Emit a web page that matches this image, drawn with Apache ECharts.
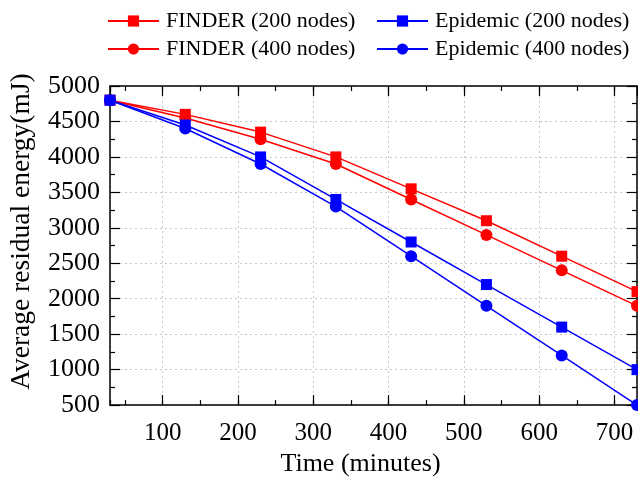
<!DOCTYPE html>
<html>
<head>
<meta charset="utf-8">
<script src="https://cdn.jsdelivr.net/npm/echarts@6/dist/echarts.min.js"></script>
<style>
html,body{margin:0;padding:0;background:#fff;}
#chart{width:638px;height:482px;}
</style>
</head>
<body>
<div id="chart"></div>
<script>
const timeValues = [30, 130, 230, 330, 430, 530, 630, 730];
const finder200 = [4800, 4600, 4350, 4000, 3550, 3100, 2600, 2100];
const finder400 = [4800, 4550, 4250, 3900, 3400, 2900, 2400, 1900];
const epidemic200 = [4800, 4450, 4000, 3400, 2800, 2200, 1600, 1000];
const epidemic400 = [4800, 4400, 3900, 3300, 2600, 1900, 1200, 500];
const seriesNames = ['FINDER (200 nodes)', 'FINDER (400 nodes)', 'Epidemic (200 nodes)', 'Epidemic (400 nodes)'];
const xTickLabels = [100, 200, 300, 400, 500, 600, 700];
const yTickLabels = [500, 1000, 1500, 2000, 2500, 3000, 3500, 4000, 4500, 5000];

const FONT = '"Liberation Serif", "Times New Roman", serif';
const pair = arr => timeValues.map((t, i) => [t, arr[i]]);

const chart = echarts.init(document.getElementById('chart'), null, {renderer: 'canvas'});

const xMin = timeValues[0], xMax = timeValues[timeValues.length - 1];
const yMin = yTickLabels[0], yMax = yTickLabels[yTickLabels.length - 1];

function xAxisCfg(pos, major, showLabel, extra) {
  return Object.assign({
    type: 'value', position: pos, min: xMin, max: xMax,
    splitNumber: major ? 7 : 14,
    axisLine: {show: major, lineStyle: {color: '#000', width: 1.5}},
    axisTick: {show: true, inside: true, length: major ? 10 : 5, lineStyle: {color: '#000', width: 1.2}},
    axisLabel: {show: showLabel, showMinLabel: false, showMaxLabel: false, margin: 16,
      color: '#000', fontFamily: FONT, fontSize: 25,
      formatter: v => (xTickLabels.indexOf(v) >= 0 ? String(v) : '')},
    splitLine: {show: false}
  }, extra || {});
}

const legendText = {fontFamily: FONT, fontSize: 22, color: '#000', lineHeight: 22, padding: [0, 0, 0, 2]};

const option = {
  animation: false,
  backgroundColor: '#fff',
  grid: {left: 108, right: 1, top: 86, bottom: 74, containLabel: false},
  legend: [
    {
      data: [seriesNames[0], seriesNames[1]],
      orient: 'vertical', left: 107, top: 10, padding: 0,
      itemWidth: 51, itemHeight: 14, itemGap: 6,
      textStyle: legendText
    },
    {
      data: [seriesNames[2], seriesNames[3]],
      orient: 'vertical', left: 376, top: 10, padding: 0,
      itemWidth: 51, itemHeight: 14, itemGap: 6,
      textStyle: legendText
    }
  ],
  xAxis: [
    xAxisCfg('bottom', true, true, {
      name: 'Time (minutes)', nameLocation: 'middle', nameGap: 42,
      nameTextStyle: {fontFamily: FONT, fontSize: 26, color: '#000', padding: [0, 26, 0, 0]},
      splitLine: {show: true, lineStyle: {color: '#c8c8c8', type: [2, 3], width: 1}}
    }),
    xAxisCfg('bottom', false, false),
    xAxisCfg('top', true, false),
    xAxisCfg('top', false, false)
  ],
  yAxis: [
    {
      type: 'value', position: 'left', min: yMin, max: yMax, interval: 500,
      name: 'Average residual energy(mJ)', nameLocation: 'middle', nameGap: 74, nameRotate: 90,
      nameTextStyle: {fontFamily: FONT, fontSize: 27.5, color: '#000', padding: [0, 0, 0, 28]},
      axisLine: {show: true, lineStyle: {color: '#000', width: 1.5}},
      axisTick: {show: true, inside: true, length: 10, lineStyle: {color: '#000', width: 1.2}},
      minorTick: {show: true, splitNumber: 2, length: 5, lineStyle: {color: '#000', width: 1.2}},
      axisLabel: {color: '#000', fontFamily: FONT, fontSize: 26, margin: 10,
        formatter: v => (yTickLabels.indexOf(v) >= 0 ? String(v) : '')},
      splitLine: {show: true, lineStyle: {color: '#c8c8c8', type: [2, 3], width: 1}}
    },
    {
      type: 'value', position: 'right', min: yMin, max: yMax, interval: 500,
      axisLine: {show: true, lineStyle: {color: '#000', width: 1.5}},
      axisTick: {show: true, inside: true, length: 10, lineStyle: {color: '#000', width: 1.2}},
      minorTick: {show: true, splitNumber: 2, length: 5, lineStyle: {color: '#000', width: 1.2}},
      axisLabel: {show: false},
      splitLine: {show: false}
    }
  ],
  series: [
    {name: seriesNames[0], type: 'line', data: pair(finder200), symbol: 'rect', symbolSize: 11,
      color: '#ff0000', lineStyle: {width: 1.5}, itemStyle: {color: '#ff0000'}, clip: false},
    {name: seriesNames[1], type: 'line', data: pair(finder400), symbol: 'circle', symbolSize: 12,
      color: '#ff0000', lineStyle: {width: 1.5}, itemStyle: {color: '#ff0000'}, clip: false},
    {name: seriesNames[2], type: 'line', data: pair(epidemic200), symbol: 'rect', symbolSize: 11,
      color: '#0000ff', lineStyle: {width: 1.5}, itemStyle: {color: '#0000ff'}, clip: false},
    {name: seriesNames[3], type: 'line', data: pair(epidemic400), symbol: 'circle', symbolSize: 12,
      color: '#0000ff', lineStyle: {width: 1.5}, itemStyle: {color: '#0000ff'}, clip: false}
  ]
};
chart.setOption(option);
</script>
</body>
</html>
